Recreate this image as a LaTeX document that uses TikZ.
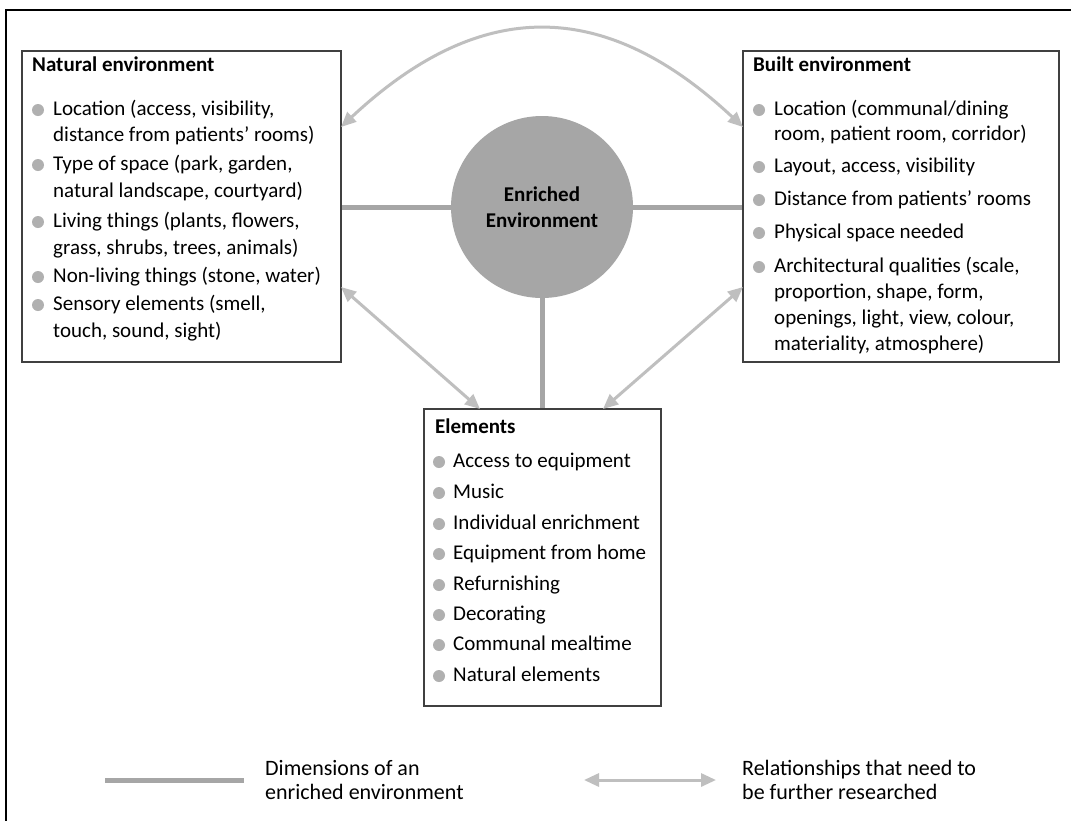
\documentclass[tikz,border=0pt]{standalone}
\usepackage{fontspec}
\setmainfont{Carlito}
\usetikzlibrary{arrows.meta,calc}
\definecolor{dimgray}{HTML}{A6A6A6}
\definecolor{relgray}{HTML}{BFBFBF}
\definecolor{bulgray}{HTML}{B0B0B0}
\definecolor{boxline}{HTML}{404040}
\begin{document}
\begin{tikzpicture}[x=1pt,y=-1pt,
  panel/.style={draw=boxline, line width=1.3pt, inner sep=0pt, fill=white},
  ttl/.style={anchor=mid west, font=\bfseries\fontsize{21}{25}\selectfont, inner sep=0pt},
  itm/.style={anchor=mid west, font=\fontsize{21}{25}\selectfont, inner sep=0pt},
  bul/.style={circle, fill=bulgray, minimum size=12pt, inner sep=0pt, yshift=3pt},
  dimline/.style={draw=dimgray, line width=5pt},
  relline/.style={draw=relgray, line width=3pt, {Triangle[length=15pt,width=13pt]}-{Triangle[length=15pt,width=13pt]}},
  legtext/.style={anchor=west, align=left, inner sep=0pt, font=\fontsize{22}{24}\selectfont}]
\useasboundingbox (0,0) rectangle (1071,820);
\fill[white] (0,0) rectangle (1071,820);
% outer frame (partly cropped)
\draw[line width=2.5pt, line cap=rect] (6,820) -- (6,10) -- (1071,10);

% panels
\node[panel, minimum width=319pt, minimum height=311pt] (nat) at (181.5,206.5) {};
\node[panel, minimum width=316pt, minimum height=311pt] (blt) at (901,206.5) {};
\node[panel, minimum width=237pt, minimum height=297pt] (elem) at (542.5,557.5) {};

% central circle
\node[circle, fill=dimgray, minimum size=182pt, inner sep=0pt, align=center,
  font=\bfseries\fontsize{21}{26}\selectfont] (circ) at (542,207) {Enriched\\Environment};

% dimension lines
\draw[dimline] (circ.west) -- (circ.west -| nat.east);
\draw[dimline] (circ.east) -- (circ.east -| blt.west);
\draw[dimline] (circ.south) -- (circ.south |- elem.north);

% relationship arrows
\coordinate (natTop) at (341,127);
\coordinate (bltTop) at (743,127);
\coordinate (natBot) at (341,287);
\coordinate (bltBot) at (743,287);
\coordinate (elemL) at (480,409);
\coordinate (elemR) at (603,409);
\draw[relline] (natTop) .. controls (480,-3) and (604,-3) .. (bltTop);
\draw[relline] (natBot) -- (elemL);
\draw[relline] (bltBot) -- (elemR);

% Natural environment
\node[ttl] (natT) at (32,69) {Natural environment};
\node[bul] (nb1) at (38,113) {};
\node[itm] (n1a) at (53,113) {Location (access, visibility,};
\node[itm] (n1b) at (53,139) {distance from patients’ rooms)};
\node[bul] (nb2) at (38,168) {};
\node[itm] (n2a) at (53,168) {Type of space (park, garden,};
\node[itm] (n2b) at (53,195) {natural landscape, courtyard)};
\node[bul] (nb3) at (38,225) {};
\node[itm] (n3a) at (53,225) {Living things (plants, flowers,};
\node[itm] (n3b) at (53,252) {grass, shrubs, trees, animals)};
\node[bul] (nb4) at (38,280) {};
\node[itm] (n4a) at (53,280) {Non-living things (stone, water)};
\node[bul] (nb5) at (38,308) {};
\node[itm] (n5a) at (53,308) {Sensory elements (smell,};
\node[itm] (n5b) at (53,335) {touch, sound, sight)};

% Built environment
\node[ttl] (bltT) at (753,69) {Built environment};
\node[bul] (bb1) at (759,113) {};
\node[itm] (b1a) at (774,113) {Location (communal/dining};
\node[itm] (b1b) at (774,138) {room, patient room, corridor)};
\node[bul] (bb2) at (759,170) {};
\node[itm] (b2a) at (774,170) {Layout, access, visibility};
\node[bul] (bb3) at (759,203) {};
\node[itm] (b3a) at (774,203) {Distance from patients’ rooms};
\node[bul] (bb4) at (759,236) {};
\node[itm] (b4a) at (774,236) {Physical space needed};
\node[bul] (bb5) at (759,270) {};
\node[itm] (b5a) at (774,270) {Architectural qualities (scale,};
\node[itm] (b5b) at (774,296) {proportion, shape, form,};
\node[itm] (b5c) at (774,322) {openings, light, view, colour,};
\node[itm] (b5d) at (774,348) {materiality, atmosphere)};

% Elements
\node[ttl] (elemT) at (435,431) {Elements};
\node[bul] (eb1) at (439,465) {};
\node[itm] (e1) at (453,465) {Access to equipment};
\node[bul] (eb2) at (439,496) {};
\node[itm] (e2) at (453,496) {Music};
\node[bul] (eb3) at (439,527) {};
\node[itm] (e3) at (453,527) {Individual enrichment};
\node[bul] (eb4) at (439,557) {};
\node[itm] (e4) at (453,557) {Equipment from home};
\node[bul] (eb5) at (439,588) {};
\node[itm] (e5) at (453,588) {Refurnishing};
\node[bul] (eb6) at (439,618) {};
\node[itm] (e6) at (453,618) {Decorating};
\node[bul] (eb7) at (439,648) {};
\node[itm] (e7) at (453,648) {Communal mealtime};
\node[bul] (eb8) at (439,679) {};
\node[itm] (e8) at (453,679) {Natural elements};

% legend
\coordinate (ldA) at (105,780);
\coordinate (ldB) at (244,780);
\draw[dimline] (ldA) -- (ldB);
\node[legtext] (legD) at (265,780) {Dimensions of an\\enriched environment};
\coordinate (lrA) at (584,780);
\coordinate (lrB) at (716,780);
\draw[relline] (lrA) -- (lrB);
\node[legtext] (legR) at (742,780) {Relationships that need to\\be further researched};
\end{tikzpicture}
\end{document}
